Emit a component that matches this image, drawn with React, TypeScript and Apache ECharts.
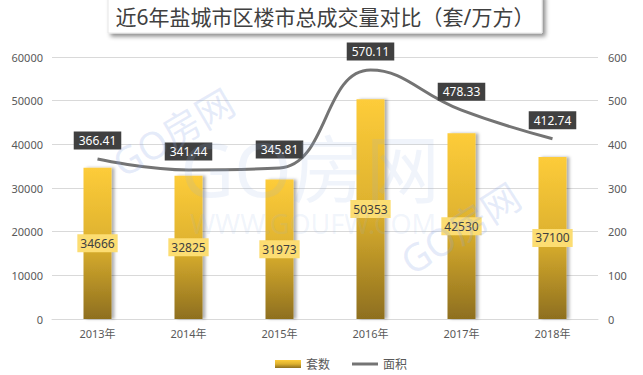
import React, { useEffect, useRef } from "react";
import * as echarts from "echarts";

const categories = ["2013年", "2014年", "2015年", "2016年", "2017年", "2018年"];
const units = [34666, 32825, 31973, 50353, 42530, 37100];
const areas = [366.41, 341.44, 345.81, 570.11, 478.33, 412.74];
const titleText = "近6年盐城市区楼市总成交量对比（套/万方）";

const FONT = "'Noto Sans', 'Noto Sans CJK SC', sans-serif";

export default function App() {
  const ref = useRef<HTMLDivElement>(null);
  useEffect(() => {
    if (!ref.current) return;
    const chart = echarts.init(ref.current, undefined, { renderer: "svg" });
    const barGrad = new echarts.graphic.LinearGradient(0, 0, 0, 1, [
      { offset: 0, color: "#FDCC3A" },
      { offset: 0.5, color: "#DDB12E" },
      { offset: 1, color: "#8E6F1F" },
    ]);
    const wm = (x: number, y: number, text: string, size: number, rot: number, fill: string) => ({
      type: "text",
      x,
      y,
      rotation: rot,
      silent: true,
      z: 100,
      style: {
        text,
        fill,
        font: `${size}px ${FONT}`,
        textAlign: "center",
        textVerticalAlign: "middle",
      },
    });
    chart.setOption({
      animation: false,
      textStyle: { fontFamily: FONT },
      graphic: [
        {
          type: "rect",
          shape: { x: 108, y: -6, width: 434, height: 39 },
          style: {
            fill: "#fff",
            stroke: "#e6e6e6",
            lineWidth: 1,
            shadowColor: "rgba(0,0,0,0.45)",
            shadowBlur: 4,
            shadowOffsetX: 3,
            shadowOffsetY: 3,
          },
          z: 10,
        },
        {
          type: "text",
          x: 325,
          y: 17,
          style: {
            text: titleText,
            fill: "#404040",
            font: `21px ${FONT}`,
            textAlign: "center",
            textVerticalAlign: "middle",
          },
          z: 11,
        },
        wm(173, 132, "GO房网", 38, 0.53, "rgba(140,165,230,0.22)"),
        wm(310, 168, "GO房网", 74, 0, "rgba(150,180,225,0.14)"),
        wm(313, 223, "WWW.GOUFW.COM", 27, 0, "rgba(150,180,225,0.14)"),
        wm(460, 228, "GO房网", 38, 0.57, "rgba(140,165,230,0.22)"),
      ],
      legend: {
        left: 270,
        top: 353,
        itemGap: 22,
        itemWidth: 26,
        itemHeight: 8,
        textStyle: { color: "#595959", fontSize: 12, fontFamily: FONT },
        data: [
          { name: "套数", icon: "rect" },
          { name: "面积", icon: "path://M0,0 L26,0 L26,3 L0,3 Z", itemStyle: { color: "#747474" } },
        ],
      },
      grid: { left: 52, right: 45, top: 57, bottom: 56 },
      xAxis: {
        type: "category",
        data: categories,
        axisLine: { lineStyle: { color: "#D9D9D9" } },
        axisTick: { show: false },
        axisLabel: { color: "#595959", fontSize: 11, margin: 9 },
      },
      yAxis: [
        {
          type: "value",
          min: 0,
          max: 60000,
          interval: 10000,
          axisLine: { show: false },
          axisTick: { show: false },
          axisLabel: { color: "#595959", fontSize: 11, margin: 9, formatter: (v: number) => String(v) },
          splitLine: { lineStyle: { color: "#D9D9D9" } },
        },
        {
          type: "value",
          min: 0,
          max: 600,
          interval: 100,
          axisLine: { show: false },
          axisTick: { show: false },
          axisLabel: { color: "#595959", fontSize: 11, margin: 10, formatter: (v: number) => String(v) },
          splitLine: { show: false },
        },
      ],
      series: [
        {
          name: "套数",
          type: "bar",
          data: units,
          barWidth: 28,
          itemStyle: {
            color: barGrad,
            shadowColor: "rgba(0,0,0,0.3)",
            shadowBlur: 3,
            shadowOffsetX: 3,
          },
          label: {
            show: true,
            position: "inside",
            color: "#404040",
            fontSize: 12,
            backgroundColor: "#FCDD72",
            padding: [3, 3],
          },
        },
        {
          name: "面积",
          type: "line",
          yAxisIndex: 1,
          data: areas,
          smooth: 0.45,
          symbol: "circle",
          symbolSize: 1,
          showSymbol: true,
          lineStyle: { color: "#747474", width: 3 },
          itemStyle: { color: "rgba(0,0,0,0)" },
          label: {
            show: true,
            position: "top",
            distance: 9,
            color: "#fff",
            fontSize: 12,
            backgroundColor: "#404040",
            padding: [3, 5],
          },
          z: 5,
        },
      ],
    });
    return () => chart.dispose();
  }, []);
  return (
    <div
      ref={ref}
      style={{ position: "fixed", left: 0, top: 0, width: 643, height: 375, background: "#fff" }}
    />
  );
}
